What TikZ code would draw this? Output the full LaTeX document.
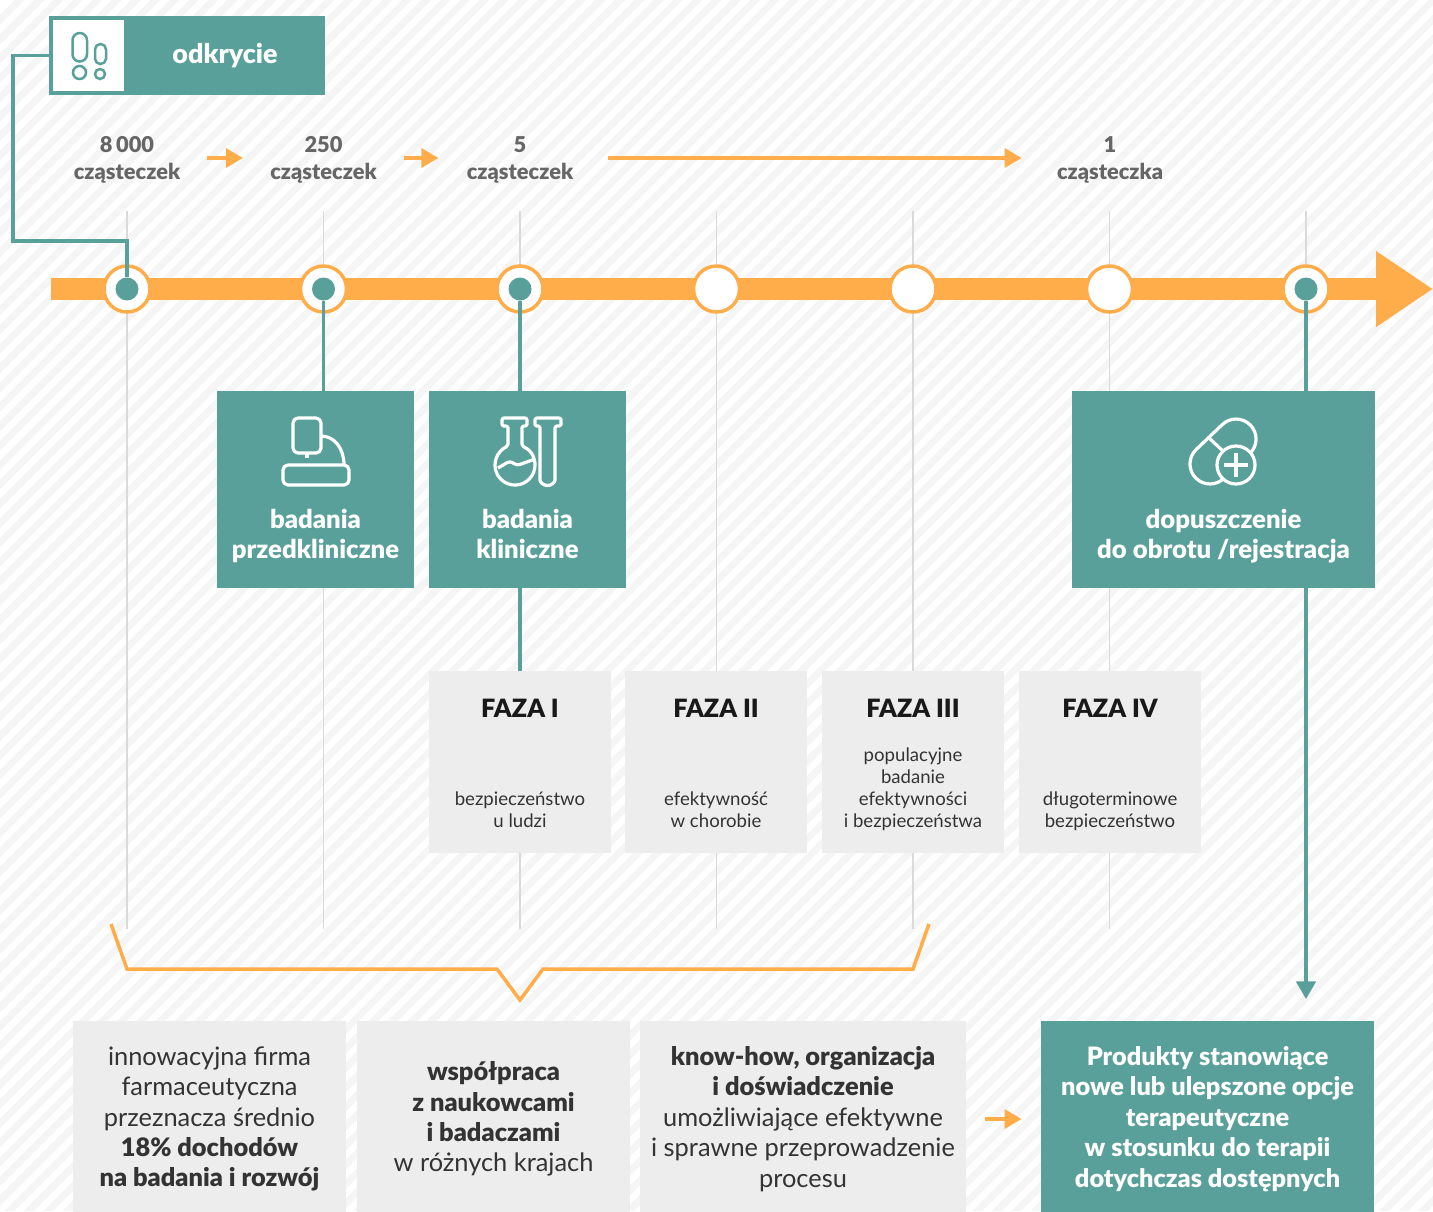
\documentclass[tikz,border=0pt]{standalone}
\usepackage{fontspec}
\setmainfont{Lato}[BoldFont={Lato Black}]
\usetikzlibrary{positioning, arrows.meta}
\definecolor{tealbox}{HTML}{59A09A}
\definecolor{orangeline}{HTML}{FFAD4A}
\definecolor{stripegray}{HTML}{F5F5F5}
\definecolor{phasegray}{HTML}{EDEDED}
\definecolor{linegray}{HTML}{DADADA}
\definecolor{countgray}{HTML}{666666}
\definecolor{bodygray}{HTML}{333333}
\begin{document}
\begin{tikzpicture}[x=0.5pt, y=-0.5pt,
    tealline/.style={draw=tealbox, line width=1.75pt},
    orangearrow/.style={color=orangeline, line width=1.75pt, -{Triangle[length=8.5pt, width=9.5pt]}},
    iconline/.style={draw=white, line width=1.6pt, line join=round},
    ring/.style={circle, draw=orangeline, fill=white, line width=1.75pt, minimum size=23pt, inner sep=0pt},
    tealdot/.style={circle, fill=tealbox, minimum size=11.5pt, inner sep=0pt},
    countlabel/.style={align=center, inner sep=0pt, text=countgray, font=\fontsize{10.9}{13.4}\selectfont\bfseries},
    tealbig/.style={fill=tealbox, text=white, inner sep=0pt, minimum height=98.5pt},
    tealtext/.style={align=center, inner sep=0pt, text=white, text depth=3pt, font=\fontsize{12.85}{15}\selectfont\bfseries},
    phasebox/.style={fill=phasegray, inner sep=0pt, minimum width=91pt, minimum height=91pt},
    phasetitle/.style={inner sep=0pt, text=black!90, font=\fontsize{12.6}{16}\selectfont\bfseries},
    phasetext/.style={align=center, inner sep=0pt, text=bodygray, text depth=2pt, font=\fontsize{9.3}{11}\selectfont},
    bottombox/.style={fill=phasegray, align=center, inner sep=0pt, minimum height=98pt, text=bodygray, font=\fontsize{12.7}{15.2}\selectfont},
    ]
    \useasboundingbox (0,0) rectangle (1433,1211);
    % background stripes
    \fill[white] (0,0) rectangle (1433,1211);
    \begin{scope}
        \clip (0,0) rectangle (1433,1211);
        \foreach \s in {15,34.36,...,2660}
            \fill[stripegray] (\s,0) -- ({\s+9.7},0) -- ({\s+9.7-1211},1211) -- ({\s-1211},1211) -- cycle;
    \end{scope}
    % grey guide lines
    \foreach \x in {127,323.5,520,716.5,913,1109.5,1306}
        \draw[linegray, line width=0.75pt] (\x,211) -- (\x,929);
    % timeline
    \coordinate (barstart) at (51,289);
    \coordinate (barend) at (1433,289);
    \draw[orangeline, line width=11pt, -{Triangle[length=28.5pt, width=36pt]}] (barstart) -- (barend);
    \foreach \n/\x in {1/127,2/323.5,3/520,4/716.5,5/913,6/1109.5,7/1306}
        \node[ring] (ring\n) at (\x,289) {};
    \foreach \n/\x in {1/127,2/323.5,3/520,7/1306}
        \node[tealdot] (dot\n) at (\x,289) {};
    % odkrycie tag
    \node[fill=tealbox, minimum width=137.5pt, minimum height=39.5pt, inner sep=0pt] (tag) at (187.5,55.5) {};
    \node[fill=white, draw=tealbox, line width=1.75pt, minimum width=37.5pt, minimum height=37.5pt, inner sep=0pt] (tagicon) at (88.5,55.5) {};
    \node[text=white, inner sep=0pt, font=\fontsize{13.45}{16}\selectfont\bfseries] (taglabel) at (225,56) {odkrycie};
    \draw[tealbox, line width=1.25pt, rounded corners=3.6pt] (72.5,33) rectangle (87,61.5);
    \draw[tealbox, line width=1.25pt, rounded corners=2.7pt] (95,44) rectangle (106,64);
    \draw[tealbox, line width=1.25pt] (79.5,72.5) circle (6.5);
    \draw[tealbox, line width=1.25pt] (100,74) circle (5);
    \coordinate (tagleft) at (13,55.5);
    \coordinate (tagdown) at (13,241);
    \coordinate (tagright) at (127,241);
    \draw[tealline] (tagicon.west) -- (tagleft) -- (tagdown) -- (tagright) -- (dot1);
    % molecule counts
    \node[countlabel] (count1) at (127,160) {8\,000\\cząsteczek};
    \node[countlabel] (count2) at (323.5,160) {250\\cząsteczek};
    \node[countlabel] (count3) at (520,160) {5\\cząsteczek};
    \node[countlabel] (count4) at (1110,160) {1\\cząsteczka};
    \path[orangearrow]
    ([yshift=1pt]count1.east) edge[shorten <=13pt, shorten >=13.5pt] ([yshift=1pt]count2.west)
    ([yshift=1pt]count2.east) edge[shorten <=13.5pt, shorten >=14pt] ([yshift=1pt]count3.west)
    ([yshift=1pt]count3.east) edge[shorten <=17pt, shorten >=17.5pt] ([yshift=1pt]count4.west);
    % teal boxes
    \node[tealbig, minimum width=98.5pt] (box2) at (315.5,489.5) {};
    \node[tealbig, minimum width=98.5pt] (box3) at (527.5,489.5) {};
    \node[tealbig, minimum width=151.5pt] (box7) at (1223.5,489.5) {};
    \node[tealtext, above=11.8pt of box2.south] (box2text) {badania\\przedkliniczne};
    \node[tealtext, above=11.8pt of box3.south] (box3text) {badania\\kliniczne};
    \node[tealtext, above=11.8pt of box7.south] (box7text) {dopuszczenie\\do obrotu /rejestracja};
    % phase boxes
    \foreach \n/\x/\t/\d in {1/520/{FAZA I}/{bezpieczeństwo\\u ludzi},
        2/716/{FAZA II}/{efektywność\\w chorobie},
        3/913/{FAZA III}/{populacyjne\\badanie\\efektywności\\i bezpieczeństwa},
        4/1110/{FAZA IV}/{długoterminowe\\bezpieczeństwo}} {
        \node[phasebox] (phase\n) at (\x,762) {};
        \node[phasetitle, below=14pt of phase\n.north] (phase\n title) {\t};
        \node[phasetext, above=11pt of phase\n.south] (phase\n text) {\d};
    }
    % teal connectors
    \coordinate (approvalend) at (1306,999);
    \path[tealline]
    (dot2) edge (dot2 |- box2.north)
    (dot3) edge (dot3 |- box3.north)
    (dot7) edge (dot7 |- box7.north)
    (phase1.north |- box3.south) edge (phase1);
    \draw[tealline, -{Triangle[length=8.8pt, width=9.7pt]}] (dot7 |- box7.south) -- (approvalend);
    % bracket
    \coordinate (bra) at (111,924);
    \coordinate (brb) at (127,969);
    \coordinate (brc) at (497,969);
    \coordinate (brd) at (520,1000);
    \coordinate (bre) at (543,969);
    \coordinate (brf) at (913,969);
    \coordinate (brg) at (929,924);
    \draw[orangeline, line width=1.75pt] (bra) -- (brb) -- (brc) -- (brd) -- (bre) -- (brf) -- (brg);
    % bottom row
    \node[bottombox, minimum width=136.5pt] (bottom1) at (209.5,1119) {innowacyjna firma\\farmaceutyczna\\przeznacza średnio\\\textbf{18\% dochodów}\\\textbf{na badania i rozwój}};
    \node[bottombox, minimum width=136.5pt] (bottom2) at (493.5,1119) {\textbf{współpraca}\\\textbf{z naukowcami}\\\textbf{i badaczami}\\w różnych krajach};
    \node[bottombox, minimum width=163pt] (bottom3) at (803,1119) {\textbf{know-how, organizacja}\\\textbf{i doświadczenie}\\umożliwiające efektywne\\i sprawne przeprowadzenie\\procesu};
    \node[bottombox, minimum width=166.5pt, fill=tealbox, text=white, font=\fontsize{12.65}{15.2}\selectfont\bfseries] (bottom4) at (1207.5,1119) {Produkty stanowiące\\nowe lub ulepszone opcje\\terapeutyczne\\w stosunku do terapii\\dotychczas dostępnych};
    \draw[orangearrow, shorten <=9.5pt, shorten >=9.5pt] (bottom3.east) -- (bottom4.west);
    % icons
    \draw[iconline, rounded corners=2.5pt] (293,418) rectangle (321,453);
    \draw[iconline] (307,453) -- (307,458);
    \draw[iconline, rounded corners=2.5pt] (283,465) rectangle (349,485);
    \draw[iconline] (321,436) .. controls (335,436) and (344,449) .. (344,465);
    \draw[iconline, rounded corners=1pt] (522,446.3) arc[start angle=-69.5, end angle=249.5, radius=20] -- (508,426) -- (502,426) -- (502,418) -- (527,418) -- (527,426) -- (522,426) -- cycle;
    \draw[iconline, rounded corners=1.5pt] (498,468) -- (510,461) -- (517,465.5) -- (535,459);
    \draw[iconline, rounded corners=1pt] (555,478) arc[start angle=0, end angle=180, radius=7.5] -- (540,426) -- (535,426) -- (535,418) -- (561,418) -- (561,426) -- (555,426) -- cycle;
    \draw[iconline] (1221.9,424.9) arc[start angle=225, end angle=405, radius=20] -- (1224.1,478.1) arc[start angle=45, end angle=225, radius=20] -- cycle;
    \draw[iconline] (1209,438) -- (1223,451);
    \draw[iconline, fill=tealbox] (1236,465) circle (19);
    \draw[iconline] (1236,453) -- (1236,477) (1224,465) -- (1248,465);
\end{tikzpicture}
\end{document}
